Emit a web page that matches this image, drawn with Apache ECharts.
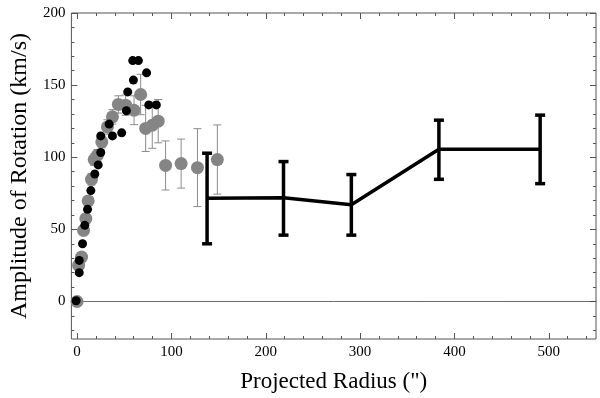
<!DOCTYPE html>
<html>
<head>
<meta charset="utf-8">
<script src="https://cdn.jsdelivr.net/npm/echarts@6/dist/echarts.min.js"></script>
<style>
  html, body { margin: 0; padding: 0; background: #fff; }
  #chart { width: 600px; height: 398px; }
</style>
</head>
<body>
<div id="chart"></div>
<script>
// gray points (with thin error bars)
var grayR   = [0, 1.6, 4.8, 6.9, 9.3, 11.8, 15.3, 18.2, 21.6, 26.2, 32.2, 37.5, 43.8, 51.5, 60.4, 67.4, 72.7, 79.7, 86, 93.8, 110.3, 127.6, 148.7];
var grayV   = [0, 25, 30.8, 49.3, 57.4, 69.7, 84.7, 98.4, 101.4, 110.6, 121, 128, 136.6, 136.1, 132.6, 143.5, 120, 122.2, 125, 94.3, 95.6, 92.8, 98.4];
var grayErr = [3, 3, 3, 3, 3, 3, 4, 4, 4, 4, 5, 5, 6, 7, 10, 14, 16, 16, 15, 17, 17, 27, 24];

// black points
var blackR = [-1, 2.3, 2.3, 5.8, 8.2, 11.1, 14.6, 18.8, 22.4, 25.1, 25.1, 34, 37.5, 47.3, 52.3, 53.7, 59.7, 59, 65, 73.7, 76, 84];
var blackV = [0.5, 20, 28.5, 40, 52.8, 63.9, 76.9, 88.4, 94.7, 103.3, 114.8, 123, 114.8, 116.9, 132.2, 145.3, 153.5, 167, 167, 158.5, 136.3, 136.3];

// binned line with thick error bars
var binR  = [137.8, 218.8, 290.7, 383.5, 490.8];
var binV  = [71.5, 72, 67, 105.5, 105.5];
var binLo = [40, 46, 46, 84.7, 81.7];
var binHi = [102.8, 97, 88, 125.7, 129.2];

var xMajor = [0, 100, 200, 300, 400, 500];
var yMajor = [0, 50, 100, 150, 200];

var xMinor = [];
for (var i = 20; i <= 540; i += 20) if (i % 100 !== 0) xMinor.push(i);
var yMinor = [];
for (var j = -20; j <= 190; j += 10) if (j % 50 !== 0) yMinor.push(j);

var font = '"Liberation Serif", "DejaVu Serif", serif';
var axisCol = '#555';

function errItem(color, width, cap) {
  return function (params, api) {
    var x = api.value(0);
    var top = api.coord([x, api.value(2)]);
    var bot = api.coord([x, api.value(1)]);
    var st = { stroke: color, lineWidth: width };
    return {
      type: 'group',
      children: [
        { type: 'line', shape: { x1: top[0], y1: top[1], x2: bot[0], y2: bot[1] }, style: st },
        { type: 'line', shape: { x1: top[0] - cap, y1: top[1], x2: top[0] + cap, y2: top[1] }, style: st },
        { type: 'line', shape: { x1: bot[0] - cap, y1: bot[1], x2: bot[0] + cap, y2: bot[1] }, style: st }
      ]
    };
  };
}

function xAx(pos, ticks, len, labels) {
  return {
    type: 'value', position: pos, min: -6, max: 550,
    axisLine: { show: false, onZero: false }, splitLine: { show: false },
    axisTick: { show: true, inside: true, length: len, customValues: ticks, lineStyle: { color: axisCol } },
    axisLabel: labels ? { show: true, customValues: ticks, fontFamily: font, fontSize: 15, color: '#000', margin: 6 } : { show: false },
    name: labels ? 'Projected Radius (")' : '', nameLocation: 'middle', nameGap: 31,
    nameTextStyle: { fontFamily: font, fontSize: 23, color: '#000' }
  };
}
function yAx(pos, ticks, len, labels) {
  return {
    type: 'value', position: pos, min: -26, max: 200,
    axisLine: { show: false, onZero: false }, splitLine: { show: false },
    axisTick: { show: true, inside: true, length: len, customValues: ticks, lineStyle: { color: axisCol } },
    axisLabel: labels ? { show: true, customValues: ticks, fontFamily: font, fontSize: 15, color: '#000', margin: 6 } : { show: false },
    name: labels ? 'Amplitude of Rotation (km/s)' : '', nameLocation: 'middle', nameGap: 39,
    nameTextStyle: { fontFamily: font, fontSize: 24, color: '#000' }
  };
}

var grayPts = grayR.map(function (r, k) { return [r, grayV[k]]; });
var grayBars = grayR.map(function (r, k) { return [r, grayV[k] - grayErr[k], grayV[k] + grayErr[k]]; });
var blackPts = blackR.map(function (r, k) { return [r, blackV[k]]; });
var binPts = binR.map(function (r, k) { return [r, binV[k]]; });
var binBars = binR.map(function (r, k) { return [r, binLo[k], binHi[k]]; });

var chart = echarts.init(document.getElementById('chart'), null, { renderer: 'canvas' });
chart.setOption({
  animation: false,
  grid: { left: 69, right: 4, top: 13, bottom: 59, show: true, borderColor: axisCol, borderWidth: 1 },
  xAxis: [
    xAx('bottom', xMajor, 6, true),
    xAx('bottom', xMinor, 3, false),
    xAx('top', xMajor, 6, false),
    xAx('top', xMinor, 3, false)
  ],
  yAxis: [
    yAx('left', yMajor, 6, true),
    yAx('left', yMinor, 3, false),
    yAx('right', yMajor, 6, false),
    yAx('right', yMinor, 3, false)
  ],
  series: [
    {
      type: 'line', data: [[-6, 0], [550, 0]], symbol: 'none', silent: true,
      lineStyle: { color: '#444', width: 0.8 }, z: 1
    },
    {
      type: 'custom', data: grayBars, renderItem: errItem('#8c8c8c', 1, 4), z: 2
    },
    {
      type: 'scatter', data: grayPts, symbolSize: 13, itemStyle: { color: '#858585', opacity: 1 }, z: 3
    },
    {
      type: 'scatter', data: blackPts, symbolSize: 9, itemStyle: { color: '#000', opacity: 1 }, z: 4
    },
    {
      type: 'line', data: binPts, symbol: 'none', lineStyle: { color: '#000', width: 3.5 }, z: 5
    },
    {
      type: 'custom', data: binBars, renderItem: errItem('#000', 3.5, 5), z: 6
    }
  ]
});
</script>
</body>
</html>
